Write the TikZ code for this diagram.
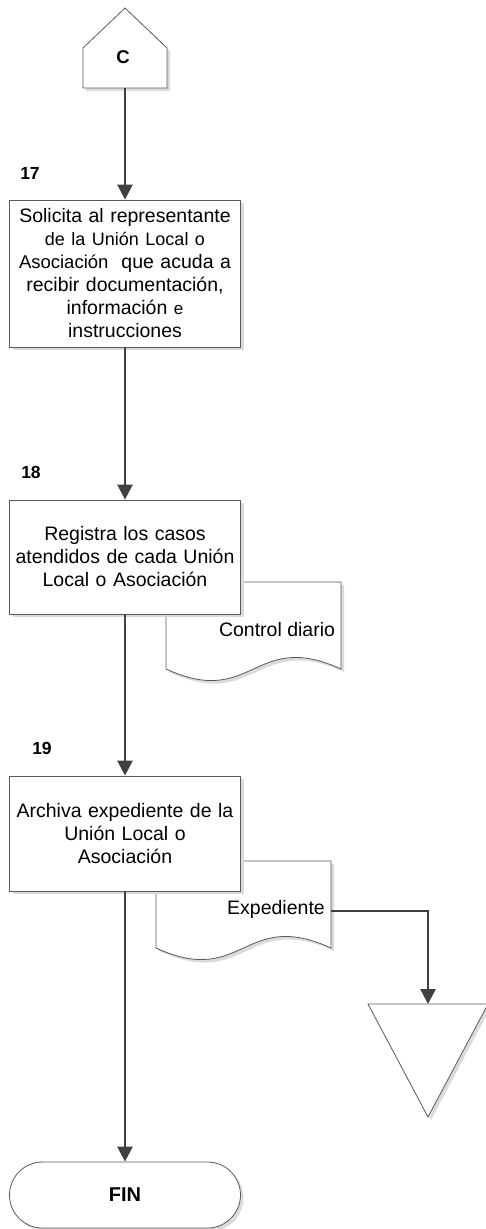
\documentclass[tikz,border=0pt]{standalone}
\usepackage{fontspec}
\setmainfont{Liberation Sans}
\usetikzlibrary{arrows.meta,shadows,positioning}

\tikzset{
  shadowed/.style={drop shadow={shadow xshift=3pt,shadow yshift=-3pt,fill=black!14,opacity=1}},
  outline/.style={draw=black!65,line width=0.8pt,fill=white,shadowed},
  proc/.style={outline,minimum width=231pt,text width=222pt,align=center,inner sep=0pt,
    font=\fontsize{19.5}{23}\selectfont},
  num/.style={font=\bfseries\fontsize{17.5}{19}\selectfont},
  doctext/.style={font=\fontsize{19.5}{23}\selectfont},
  flow/.style={draw=black!75,line width=2.6pt,-{Triangle[length=15pt,width=15pt]}}
}

\begin{document}
\begin{tikzpicture}[x=1pt,y=-1pt]
\useasboundingbox (0,0) rectangle (485,1229);

%%Off-page connector
\draw[outline] (83,88) -- (83,48) -- (125,8) -- (167,48) -- (167,88) -- cycle;
\node[font=\bfseries\fontsize{18.5}{20}\selectfont] (C) at (123,57) {C};
\coordinate (Cbot) at (125,88);

%%Documents
\draw[outline] (166,582) -- (341,582) -- (341,669)
  .. controls (253.5,629) and (253.5,709) .. (166,669) -- cycle;
\node[doctext] (ctrl) at (277,630) {Control diario};
\draw[outline] (156,861) -- (331,861) -- (331,948)
  .. controls (243.5,908) and (243.5,988) .. (156,948) -- cycle;
\node[doctext] (expd) at (276,909) {Expediente};
\coordinate (expR) at (331,911);

%%Archive
\draw[outline] (368,1004) -- (488,1004) -- (428,1117) -- cycle;
\coordinate (tri) at (428,1004);

%%Steps
\node[proc,minimum height=147pt] (b17) at (125,273.5)
  {Solicita al representante\\
   {\fontsize{18}{23}\selectfont de la Unión Local o}\\
   {\fontsize{18.5}{23}\selectfont Asociación}\ \ que acuda a\\
   recibir documentación,\\
   información {\fontsize{17}{23}\selectfont e}\\
   instrucciones};
\node[proc,minimum height=114pt] (b18) at (125,557)
  {Registra los casos\\ atendidos de cada Unión\\ Local o Asociación};
\node[proc,minimum height=115pt] (b19) at (125,833.5)
  {Archiva expediente de la\\ Unión Local o\\ Asociación};
\node[outline,rounded corners=33pt,minimum width=231pt,minimum height=66pt,
  font=\bfseries\fontsize{20}{22}\selectfont] (fin) at (125,1195) {FIN};

%%Label
\node[num] (n17) at (30,173) {17};
\node[num] (n18) at (31,472) {18};
\node[num] (n19) at (42,748) {19};

%%Flow
\draw[flow] (Cbot) -- (b17);
\draw[flow] (b17) -- (b18);
\draw[flow] (b18) -- (b19);
\draw[flow] (b19) -- (fin);
\draw[flow] (expR) -| (tri);
\end{tikzpicture}
\end{document}
